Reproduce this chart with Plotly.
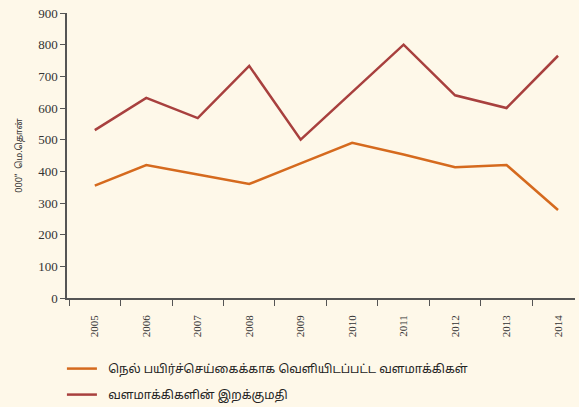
import plotly.graph_objects as go

years = ["2005", "2006", "2007", "2008", "2009", "2010", "2011", "2012", "2013", "2014"]
released = [355, 420, 390, 360, 425, 490, 453, 413, 420, 278]
mortality = [530, 632, 568, 733, 500, 650, 800, 640, 600, 765]

name_released = "நெல் பயிர்ச்செய்கைக்காக வெளியிடப்பட்ட வளமாக்கிகள்"
name_mortality = "வளமாக்கிகளின் இறக்குமதி"

bg = "#FEF8E9"
fig = go.Figure()
fig.add_trace(go.Scatter(x=years, y=released, mode="lines", name="  " + name_released,
                         legendgroup="a",
                         line=dict(color="#D56A1E", width=2.5)))
fig.add_trace(go.Scatter(x=years, y=mortality, mode="lines", name="  " + name_mortality,
                         legendgroup="b",
                         line=dict(color="#A8403E", width=2.5)))

fig.update_layout(
    width=579, height=407,
    paper_bgcolor=bg, plot_bgcolor=bg,
    margin=dict(l=67, r=4, t=13, b=109, autoexpand=False),
    showlegend=True,
    legend=dict(orientation="v", x=-0.01, xanchor="left", y=0.13, yanchor="top",
                yref="container",
                font=dict(family="Noto Sans Tamil, Noto Sans, sans-serif", size=12, color="#222"),
                bgcolor="rgba(0,0,0,0)", tracegroupgap=7, itemwidth=30),
    xaxis=dict(type="category", range=[-0.54, 9.33], tickson="boundaries",
               ticks="outside", ticklen=6, tickcolor="#555",
               showline=True, linecolor="#555", linewidth=1.5, showgrid=False,
               tickangle=-90, ticklabelstandoff=11,
               tickfont=dict(family="Liberation Serif", size=11, color="#333"),
               zeroline=False),
    yaxis=dict(range=[0, 900], tickvals=list(range(0, 901, 100)),
               ticks="outside", ticklen=5, tickcolor="#555",
               showline=True, linecolor="#555", linewidth=1.5, showgrid=False,
               zeroline=False,
               tickfont=dict(family="Liberation Serif", size=13, color="#333"),
               title=dict(text='000"  மெ.தொன்', font=dict(family="Noto Sans Tamil, Noto Sans, sans-serif", size=9, color="#333"), standoff=14)),
)
fig.write_html("out.html", config={"displayModeBar": False},
               post_script="document.body.style.margin='0';document.body.style.background='" + bg + "';")
